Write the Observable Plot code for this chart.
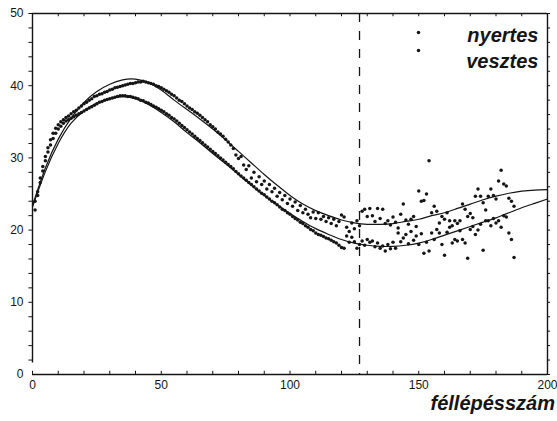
<!DOCTYPE html>
<html>
<head>
<meta charset="utf-8">
<script src="https://cdn.jsdelivr.net/npm/d3@7"></script>
<script src="https://cdn.jsdelivr.net/npm/@observablehq/plot@0.6"></script>
<style>
  html, body { margin: 0; padding: 0; background: #ffffff; }
  #chart svg { display: block; }
</style>
</head>
<body>
<div id="chart"></div>
<script>
// ---- data ----
const seriesNames = ["nyertes", "vesztes"];
const xLabel = "féllépésszám";
const xTickLabels = [0, 50, 100, 150, 200];
const yTickLabels = [0, 10, 20, 30, 40, 50];
const xMinorTicks = [0, 10, 20, 30, 40, 50, 60, 70, 80, 90, 100, 110, 120, 130, 140, 150, 160, 170, 180, 190, 200];
const yMinorTicks = [0, 2, 4, 6, 8, 10, 12, 14, 16, 18, 20, 22, 24, 26, 28, 30, 32, 34, 36, 38, 40, 42, 44, 46, 48, 50];
const splitMove = 127;

// half-move number 1..187
const nyertes = [
  24.0, 25.3, 27.2, 28.8, 30.2, 31.4, 32.5, 33.4, 34.1, 34.6,
  35.0, 35.3, 35.6, 35.8, 36.1, 36.4, 36.6, 36.9, 37.2, 37.5,
  37.7, 38.0, 38.2, 38.5, 38.6, 38.8, 38.9, 39.1, 39.2, 39.4,
  39.5, 39.7, 39.8, 39.9, 40.0, 40.1, 40.2, 40.3, 40.3, 40.4,
  40.5, 40.5, 40.6, 40.5, 40.4, 40.3, 40.2, 40.0, 39.9, 39.7,
  39.5, 39.3, 39.1, 38.8, 38.6, 38.3, 38.0, 37.8, 37.5, 37.2,
  36.9, 36.7, 36.4, 36.2, 35.9, 35.6, 35.3, 35.0, 34.6, 34.3,
  34.0, 33.6, 33.3, 33.0, 32.6, 32.2, 31.8, 31.3, 30.4, 29.9,
  30.2, 29.0, 28.4, 28.9, 27.2, 28.0, 26.7, 27.4, 26.3, 26.8,
  25.7, 26.3, 25.3, 25.8, 24.7, 25.2, 24.2, 24.8, 23.7, 24.3,
  23.3, 23.9, 22.7, 23.4, 22.4, 22.9, 22.2, 21.7, 22.5, 21.6,
  22.4, 21.5, 21.9, 21.2, 21.7, 20.9, 21.5, 20.6, 21.2, 22.1,
  21.8, 20.4, 19.8, 21.0, 20.2, 21.3, 20.6, 22.6, 22.9, 21.9,
  23.0, 22.0, 21.2, 23.0, 21.6, 22.9, 20.9, 21.3, 20.7, 21.8,
  21.1, 20.3, 22.2, 23.6, 21.4, 20.8, 21.5, 21.9, 20.5, 25.4,
  24.0, 24.1, 25.0, 29.6, 22.4, 23.3, 22.6, 21.0, 21.9, 21.5,
  22.4, 21.3, 20.6, 21.3, 20.9, 21.3, 23.6, 22.9, 21.9, 22.3,
  21.7, 24.7, 25.7, 24.7, 23.8, 22.8, 24.7, 25.7, 24.8, 24.3,
  26.8, 28.3, 26.4, 26.1, 24.4, 24.0, 23.3
];
const vesztes = [
  22.8, 24.8, 26.6, 28.2, 29.6, 30.8, 31.8, 32.7, 33.4, 34.0,
  34.4, 34.8, 35.1, 35.3, 35.5, 35.7, 35.9, 36.1, 36.3, 36.5,
  36.7, 36.9, 37.1, 37.3, 37.5, 37.7, 37.8, 38.0, 38.1, 38.2,
  38.3, 38.4, 38.5, 38.6, 38.6, 38.6, 38.5, 38.5, 38.4, 38.3,
  38.2, 38.0, 37.9, 37.7, 37.6, 37.4, 37.2, 37.0, 36.8, 36.6,
  36.4, 36.1, 35.9, 35.6, 35.4, 35.1, 34.8, 34.5, 34.2, 33.9,
  33.6, 33.3, 33.0, 32.7, 32.4, 32.1, 31.8, 31.5, 31.2, 30.9,
  30.6, 30.3, 30.0, 29.7, 29.4, 29.1, 28.8, 28.5, 28.1, 27.8,
  27.5, 27.2, 26.9, 26.6, 26.3, 26.0, 25.7, 25.4, 25.1, 24.9,
  24.6, 24.3, 24.0, 23.8, 23.5, 23.2, 22.9, 22.7, 22.4, 22.2,
  21.9, 21.6, 21.4, 21.1, 20.9, 20.6, 20.4, 20.1, 19.9, 19.6,
  19.4, 19.3, 19.1, 18.9, 18.8, 18.6, 18.4, 18.2, 17.9, 17.6,
  17.5, 19.2, 18.3, 19.0, 18.4, 17.5, 18.0, 18.5, 17.9, 18.7,
  18.3, 18.5, 17.7, 18.2, 17.5, 17.8, 17.1, 18.0, 17.4, 18.3,
  17.5, 19.6, 18.4, 18.9, 19.4, 18.1, 19.8, 18.6, 19.2, 18.0,
  19.5, 16.8, 18.3, 17.1, 19.6, 18.7, 20.1, 19.6, 18.0, 16.5,
  19.7, 20.4, 18.2, 18.7, 18.5, 19.9, 18.7, 18.2, 16.1, 20.1,
  20.5, 19.4, 20.0, 20.8, 17.2, 21.3, 21.3, 20.6, 21.6, 21.0,
  21.3, 20.4, 22.0, 21.8, 19.6, 18.7, 16.2
];

// fitted curves, read at these move numbers
const curveX = [0, 5, 10, 15, 20, 25, 30, 35, 40, 45, 50, 55, 60, 65, 70, 75, 80, 85, 90, 95, 100,
  105, 110, 115, 120, 125, 130, 135, 140, 145, 150, 155, 160, 165, 170, 175, 180, 185, 190, 195, 200];
const fitNyertes = [23.4, 28.6, 32.6, 35.5, 37.7, 39.2, 40.2, 40.8, 40.9, 40.4, 39.4, 38.0, 36.7, 35.4, 34.0, 32.5, 30.9, 29.3, 27.7, 26.2, 24.8,
  23.6, 22.7, 22.0, 21.4, 21.0, 20.8, 20.8, 20.9, 21.2, 21.5, 22.0, 22.4, 23.0, 23.6, 24.2, 24.7, 25.1, 25.4, 25.55, 25.6];
const fitVesztes = [23.2, 28.1, 32.0, 34.8, 36.5, 37.6, 38.2, 38.5, 38.2, 37.4, 36.3, 35.0, 33.5, 32.1, 30.6, 29.2, 27.7, 26.2, 24.8, 23.5, 22.3,
  21.2, 20.2, 19.4, 18.7, 18.2, 17.9, 17.75, 17.75, 17.9, 18.2, 18.7, 19.3, 19.9, 20.5, 21.1, 21.7, 22.4, 23.1, 23.7, 24.3];

// ---- build tables ----
const points = [];
nyertes.forEach((v, i) => points.push({move: i + 1, value: v, series: seriesNames[0]}));
vesztes.forEach((v, i) => points.push({move: i + 1, value: v, series: seriesNames[1]}));
const fits = [];
curveX.forEach((x, i) => fits.push({move: x, value: fitNyertes[i], series: seriesNames[0]}));
curveX.forEach((x, i) => fits.push({move: x, value: fitVesztes[i], series: seriesNames[1]}));

const ink = "#151515";
const font = "'Liberation Sans', Arial, Helvetica, sans-serif";

const chart = Plot.plot({
  width: 557,
  height: 421,
  marginLeft: 32,
  marginRight: 10,
  marginTop: 13,
  marginBottom: 47,
  x: {domain: [0, 200], axis: null},
  y: {domain: [0, 50], axis: null},
  style: {background: "#ffffff", fontFamily: font, color: ink},
  marks: [
    // frame
    Plot.ruleY([50], {stroke: ink, strokeWidth: 1.4}),
    Plot.ruleY([0], {stroke: ink, strokeWidth: 1.4}),
    Plot.ruleX([200], {stroke: ink, strokeWidth: 1.4}),
    Plot.ruleX([0], {y1: 1.6, y2: 50, stroke: ink, strokeWidth: 1.4}),
    // ticks
    Plot.ruleX(xMinorTicks, {x: d => d, y1: 0, y2: 0.45, stroke: ink, strokeWidth: 1}),
    Plot.ruleX(xMinorTicks, {x: d => d, y1: 50, y2: 49.55, stroke: ink, strokeWidth: 1}),
    Plot.ruleY(yMinorTicks.filter(d => d > 1), {y: d => d, x1: -1.4, x2: 0, stroke: ink, strokeWidth: 1}),
    Plot.ruleY(yMinorTicks, {y: d => d, x1: 200, x2: 201.2, stroke: ink, strokeWidth: 1}),
    // tick labels
    Plot.text(xTickLabels, {x: d => d, frameAnchor: "bottom", dy: 14, text: d => String(d),
      fontSize: 12, fill: ink}),
    Plot.text(yTickLabels, {y: d => d, frameAnchor: "left", dx: -9, textAnchor: "end", text: d => String(d),
      fontSize: 12, fill: ink}),
    // split line
    Plot.ruleX([splitMove], {stroke: ink, strokeWidth: 1.3, strokeDasharray: "9,9"}),
    // fitted curves
    Plot.line(fits, {x: "move", y: "value", z: "series", curve: "natural", stroke: ink, strokeWidth: 1.2}),
    // observed points
    Plot.dot(points, {x: "move", y: "value", r: 1.75, fill: ink, stroke: null}),
    // legend
    Plot.text([seriesNames[0]], {frameAnchor: "top-right", dx: -9, dy: 14.6, textAnchor: "end",
      text: d => d, fontSize: 20, fontWeight: "bold", fontStyle: "italic", fill: ink}),
    Plot.text([seriesNames[1]], {frameAnchor: "top-right", dx: -9, dy: 40.1, textAnchor: "end",
      text: d => d, fontSize: 20, fontWeight: "bold", fontStyle: "italic", fill: ink}),
    Plot.dot([seriesNames[0]], {frameAnchor: "top-left", dx: 386, dy: 19, r: 1.75, fill: ink}),
    Plot.dot([seriesNames[1]], {frameAnchor: "top-left", dx: 386, dy: 37, r: 1.75, fill: ink}),
    // x label
    Plot.text([xLabel], {frameAnchor: "bottom-right", dx: -117, dy: 35, textAnchor: "start",
      text: d => d, fontSize: 20, fontWeight: "bold", fontStyle: "italic", fill: ink})
  ]
});
document.getElementById("chart").appendChild(chart);
</script>
</body>
</html>
